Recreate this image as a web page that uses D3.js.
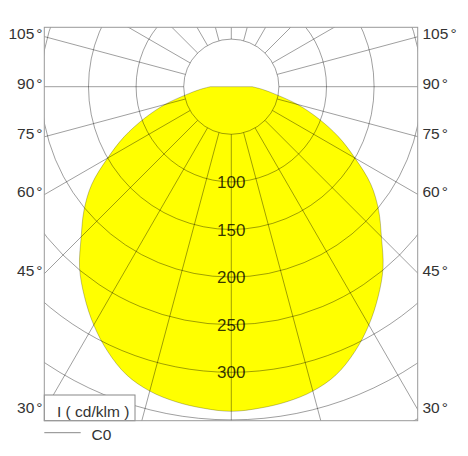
<!DOCTYPE html>
<html>
<head>
<meta charset="utf-8">
<script src="https://cdn.jsdelivr.net/npm/d3@7"></script>
<style>
  body { margin: 0; background: #fff; }
  text { font-family: "Liberation Sans", Arial, sans-serif; }
</style>
</head>
<body>
<svg id="drawing_region" width="468" height="456"></svg>
<script>
// C0 intensity (cd/klm) by angle from nadir
const angles    = [0, 5, 10, 15, 20, 25, 30, 35, 40, 45, 50, 55, 60, 65, 70, 75, 80, 85, 90];
const intensity = [341, 339, 336, 331, 322, 307, 289, 269, 248, 223, 202, 179, 150, 124, 97, 72, 48, 33, 22];

const ringValues   = [50, 100, 150, 200, 250, 300, 350, 400];
const ringLabels   = [100, 150, 200, 250, 300];
const radialAngles = [0, 15, 30, 45, 60, 75, 90, 105, 120, 135, 150, 165, 180,
                      195, 210, 225, 240, 255, 270, 285, 300, 315, 330, 345];
const degreeLabels = [105, 90, 75, 60, 45, 30];

const svg = d3.select('#drawing_region');
const cx = 231.3, cy = 86.7;
const frame = {x0: 44.3, y0: 27.3, x1: 417.7, y1: 420.7};
const rad = Math.PI / 180;

const r = d3.scaleLinear().domain([0, 400]).range([0, 380.8]);

svg.append('defs').append('clipPath').attr('id', 'frameclip')
  .append('rect')
  .attr('x', frame.x0).attr('y', frame.y0)
  .attr('width', frame.x1 - frame.x0).attr('height', frame.y1 - frame.y0);

const g = svg.append('g').attr('transform', `translate(${cx},${cy})`);

// distribution curve, mirrored for the left half
let pts = [];
angles.forEach((a, i) => pts.push({a: a, v: intensity[i]}));
let curve = pts.slice(1).reverse().map(d => ({a: -d.a, v: d.v})).concat(pts);

const radial = d3.lineRadial()
  .angle(d => Math.PI - d.a * rad)
  .radius(d => r(d.v))
  .curve(d3.curveCatmullRom);

g.append('path')
  .attr('d', radial(curve) + 'Z')
  .attr('fill', '#ffff00')
  .attr('stroke', '#000')
  .attr('stroke-opacity', 0.3)
  .attr('stroke-width', 0.8);

// grid
const grid = svg.append('g').attr('clip-path', 'url(#frameclip)')
  .append('g').attr('transform', `translate(${cx},${cy})`)
  .attr('fill', 'none')
  .attr('stroke', '#000')
  .attr('stroke-opacity', 0.42)
  .attr('stroke-width', 0.9);

grid.selectAll('circle')
  .data(ringValues)
  .enter().append('circle')
  .attr('r', d => r(d));

grid.selectAll('line')
  .data(radialAngles)
  .enter().append('line')
  .attr('x1', d => r(50) * Math.sin(d * rad))
  .attr('y1', d => r(50) * Math.cos(d * rad))
  .attr('x2', d => r(700) * Math.sin(d * rad))
  .attr('y2', d => r(700) * Math.cos(d * rad));

// ring labels on the nadir axis
const lab = g.selectAll('g.rl')
  .data(ringLabels)
  .enter().append('g').attr('class', 'rl')
  .attr('transform', d => `translate(0,${r(d)})`);

lab.append('rect')
  .attr('x', -20).attr('y', -10)
  .attr('width', 40).attr('height', 20)
  .attr('fill', '#ffff00');

lab.append('text')
  .attr('text-anchor', 'middle')
  .attr('dy', '0.36em')
  .attr('font-size', '17px')
  .attr('fill', '#000')
  .attr('fill-opacity', 0.8)
  .text(d => d);

// legend box
svg.append('rect')
  .attr('x', frame.x0).attr('y', 395)
  .attr('width', 135 - frame.x0).attr('height', frame.y1 - 395)
  .attr('fill', '#fff')
  .attr('stroke', '#888')
  .attr('stroke-width', 1);

svg.append('text')
  .attr('x', 57).attr('y', 416.5)
  .attr('font-size', '15.5px')
  .attr('fill', '#333')
  .text('I ( cd/klm )');

// frame
svg.append('rect')
  .attr('x', frame.x0).attr('y', frame.y0)
  .attr('width', frame.x1 - frame.x0).attr('height', frame.y1 - frame.y0)
  .attr('fill', 'none')
  .attr('stroke', '#999')
  .attr('stroke-width', 1);

// angle labels on both sides
const halfW = cx - frame.x0;
const labelY = a => cy + halfW * Math.cos(a * rad) / Math.sin(a * rad) + 2;

function degText(sel) {
  sel.append('tspan').text(d => d);
  sel.append('tspan').attr('dx', 2).text('°');
}

svg.selectAll('text.degL')
  .data(degreeLabels)
  .enter().append('text').attr('class', 'degL')
  .attr('x', 42.5)
  .attr('y', d => labelY(d))
  .attr('text-anchor', 'end')
  .attr('font-size', '15.5px')
  .attr('fill', '#333')
  .call(degText);

svg.selectAll('text.degR')
  .data(degreeLabels)
  .enter().append('text').attr('class', 'degR')
  .attr('x', 422.5)
  .attr('y', d => labelY(d))
  .attr('font-size', '15.5px')
  .attr('fill', '#333')
  .call(degText);

// C0 legend
svg.append('line')
  .attr('x1', frame.x0).attr('x2', 80.7)
  .attr('y1', 432.7).attr('y2', 432.7)
  .attr('stroke', '#888')
  .attr('stroke-width', 1);

svg.append('text')
  .attr('x', 91.5).attr('y', 440)
  .attr('font-size', '15.5px')
  .attr('fill', '#333')
  .text('C0');
</script>
</body>
</html>
